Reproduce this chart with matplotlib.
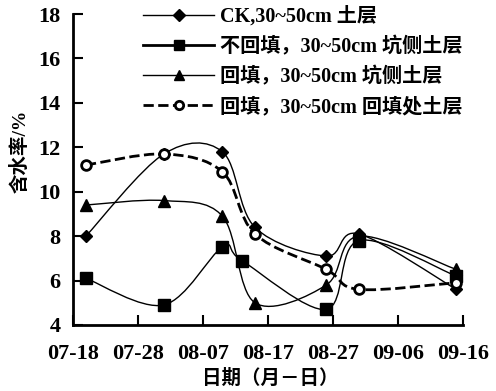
import numpy as np
import matplotlib.pyplot as plt
from matplotlib.path import Path
from matplotlib.patches import PathPatch
from matplotlib.lines import Line2D

plt.rcParams['font.family'] = ['Liberation Serif', 'Noto Sans CJK SC']
plt.rcParams['font.weight'] = 'bold'

# hari sejak 07-18
days = [2, 14, 23, 28, 39, 44, 59]
days_sq = [2, 14, 23, 26, 39, 44, 59]
days_ci = [2, 14, 23, 28, 39, 44, 59]

ck = [8.0, 11.7, 11.8, 8.4, 7.1, 8.1, 5.6]
no_fill = [6.1, 4.9, 7.5, 6.9, 4.7, 7.8, 6.2]
fill_side = [9.4, 9.6, 8.9, 5.0, 5.8, 8.0, 6.5]
fill_spot = [11.2, 11.7, 10.9, 8.1, 6.5, 5.6, 5.9]

tick_days = [0, 10, 20, 30, 40, 50, 60]
tick_labels = ['07-18', '07-28', '08-07', '08-17', '08-27', '09-06', '09-16']

labels = ['CK,30~50cm 土层', '不回填，30~50cm 坑侧土层',
          '回填，30~50cm 坑侧土层', '回填，30~50cm 回填处土层']


def smooth_path(x, y):
    # kurva halus Catmull-Rom sebagai bezier kubik
    pts = np.column_stack([x, y]).astype(float)
    verts = [pts[0]]
    codes = [Path.MOVETO]
    n = len(pts)
    for i in range(n - 1):
        p0 = pts[max(i - 1, 0)]
        p1 = pts[i]
        p2 = pts[i + 1]
        p3 = pts[min(i + 2, n - 1)]
        c1 = p1 + (p2 - p0) / 6.0
        c2 = p2 - (p3 - p1) / 6.0
        verts += [c1, c2, p2]
        codes += [Path.CURVE4] * 3
    return Path(verts, codes)


fig = plt.figure(figsize=(4.96, 3.91), dpi=100)
ax = fig.add_axes([0.147, 0.169, 0.786, 0.795])

series = [
    (days, ck, 'D', 'black', '-', 1.0, 6),
    (days_sq, no_fill, 's', 'black', '-', 1.0, 8),
    (days, fill_side, '^', 'black', '-', 1.0, 8),
    (days_ci, fill_spot, 'o', 'white', '--', 2.0, 7),
]

for x, y, m, fc, ls, lw, ms in series:
    patch = PathPatch(smooth_path(x, y), facecolor='none', edgecolor='black',
                      lw=lw, linestyle=ls)
    ax.add_patch(patch)
    ax.plot(x, y, linestyle='none', marker=m, markersize=ms,
            markerfacecolor=fc, markeredgecolor='black', markeredgewidth=2 if fc == 'white' else 1)

handles = [
    Line2D([], [], color='black', lw=1.0, marker='D', markersize=6),
    Line2D([], [], color='black', lw=2.0, marker='s', markersize=7),
    Line2D([], [], color='black', lw=1.0, marker='^', markersize=7),
    Line2D([], [], color='black', lw=2.0, ls='--', marker='o', markersize=6,
           markerfacecolor='white', markeredgewidth=2),
]
ax.legend(handles, labels, loc='upper left', bbox_to_anchor=(0.16, 1.05),
          frameon=False, handlelength=3.5, labelspacing=0.5,
          handletextpad=0.3, borderaxespad=0,
          prop={'size': 14.5, 'weight': 'bold'})

ax.set_xlim(0, 60)
ax.set_ylim(4, 18)
ax.set_yticks([4, 6, 8, 10, 12, 14, 16, 18])
ax.set_xticks(tick_days)
ax.set_xticklabels(tick_labels)
ax.tick_params(direction='in', length=7, width=1.5, labelsize=16)
ax.tick_params(axis='x', pad=14)
ax.tick_params(axis='y', pad=9)
ax.spines['top'].set_visible(False)
ax.spines['right'].set_visible(False)
ax.spines['left'].set_linewidth(2)
ax.spines['bottom'].set_linewidth(2)

ax.set_ylabel('含水率/%', fontsize=14, fontweight='bold')
ax.yaxis.set_label_coords(-0.11, 0.56)
ax.set_xlabel('日期（月－日）', fontsize=14, fontweight='bold')
ax.xaxis.set_label_coords(0.505, -0.14)

plt.savefig('out.png', dpi=100)
